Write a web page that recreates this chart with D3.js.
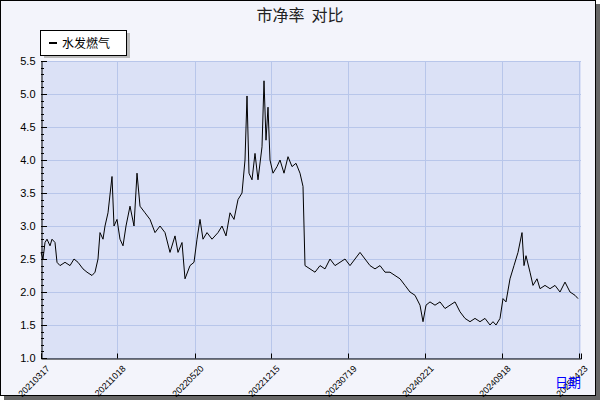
<!DOCTYPE html>
<html><head><meta charset="utf-8">
<script src="https://cdn.jsdelivr.net/npm/d3@7"></script>
<style>body{margin:0;background:#fff}</style></head>
<body>
<script>
const tickIdx = [0, 76, 154, 230, 307, 384, 461, 538];
const tickLabels = ["20210317","20211018","20220520","20221215","20230719","20240221","20240918","20250423"];
const tIdx = [0,2,4,6,9,11,14,16,19,24,29,33,37,42,46,51,54,57,59,62,64,67,71,73,76,79,82,85,89,93,96,99,104,109,114,119,124,129,134,137,141,144,149,153,156,159,162,166,171,177,181,185,189,193,197,201,204,206,208,211,214,217,221,223,225,227,229,232,236,239,243,247,251,255,259,262,264,269,274,279,284,289,294,299,304,309,314,319,324,329,334,339,344,349,354,359,364,369,374,379,382,385,389,394,399,404,409,414,419,424,429,434,439,444,449,452,455,459,462,465,469,473,477,481,483,485,489,492,496,499,504,509,514,519,524,529,534,537,540];
const pb = [2.6,2.5,2.75,2.8,2.7,2.8,2.75,2.45,2.4,2.45,2.4,2.5,2.45,2.35,2.3,2.25,2.3,2.5,2.9,2.8,3.0,3.2,3.75,3.0,3.1,2.8,2.7,3.0,3.3,3.0,3.8,3.3,3.2,3.1,2.9,3.0,2.9,2.6,2.85,2.6,2.75,2.2,2.4,2.45,2.8,3.1,2.8,2.9,2.8,2.9,3.0,2.85,3.2,3.1,3.4,3.5,4.0,4.97,3.8,3.7,4.1,3.7,4.2,5.2,4.3,4.8,4.0,3.8,3.9,4.0,3.8,4.05,3.9,3.95,3.8,3.6,2.4,2.35,2.3,2.4,2.35,2.5,2.4,2.45,2.5,2.4,2.5,2.6,2.5,2.4,2.35,2.4,2.3,2.3,2.25,2.2,2.1,2.0,1.95,1.8,1.55,1.8,1.85,1.8,1.85,1.75,1.8,1.85,1.7,1.6,1.55,1.6,1.55,1.6,1.5,1.55,1.5,1.6,1.9,1.85,2.2,2.4,2.6,2.9,2.4,2.55,2.3,2.1,2.2,2.05,2.1,2.05,2.1,2.0,2.15,2.0,1.95,1.9];
const yTicks = [1.0,1.5,2.0,2.5,3.0,3.5,4.0,4.5,5.0,5.5];

const W = 600, H = 400;
const m = {l: 41, r: 581, t: 61, b: 358};
const svg = d3.select("body").append("svg").attr("width", W).attr("height", H)
  .style("font-family", "DejaVu Sans, sans-serif");

// frame with shadow
svg.append("rect").attr("x", 4).attr("y", 4).attr("width", W - 4).attr("height", H - 4).attr("fill", "#666");
svg.append("rect").attr("x", 0.5).attr("y", 0.5).attr("width", W - 5).attr("height", H - 5)
  .attr("fill", "#f3f4fb").attr("stroke", "#000");

const x = d3.scaleLinear().domain([0, 540]).range([m.l, m.r]);
const y = d3.scaleLinear().domain([1, 5.5]).range([m.b, m.t]);

svg.append("rect").attr("x", m.l).attr("y", m.t).attr("width", m.r - m.l).attr("height", m.b - m.t)
  .attr("fill", "#dbe1f6");

const grid = svg.append("g").attr("stroke", "#b8c6ea").attr("stroke-width", 1);
grid.selectAll(".h").data(yTicks).enter().append("line")
  .attr("x1", m.l).attr("x2", m.r).attr("y1", d => Math.round(y(d)) + 0.5).attr("y2", d => Math.round(y(d)) + 0.5);
grid.selectAll(".v").data(tickIdx.slice(1)).enter().append("line")
  .attr("y1", m.t).attr("y2", m.b).attr("x1", d => Math.round(x(d)) + 0.5).attr("x2", d => Math.round(x(d)) + 0.5);

// y axis
const yAxis = svg.append("g").attr("transform", `translate(${m.l + 0.5},0)`)
  .call(d3.axisLeft(y).tickValues(yTicks).tickFormat(d3.format(".1f")).tickSize(0).tickPadding(6));
yAxis.select(".domain").attr("stroke", "#000");
yAxis.selectAll("text").attr("font-size", 11).attr("fill", "#000");
svg.append("g").selectAll("line").data(d3.range(1, 5.51, 0.1)).enter().append("line")
  .attr("x1", m.l).attr("x2", d => m.l + (Math.abs(d * 2 - Math.round(d * 2)) < 0.01 ? 6 : 3))
  .attr("y1", d => Math.round(y(d)) + 0.5).attr("y2", d => Math.round(y(d)) + 0.5).attr("stroke", "#000");

// x axis
const xAxis = svg.append("g").attr("transform", `translate(0,${m.b + 0.5})`)
  .call(d3.axisBottom(x).tickValues(tickIdx).tickFormat((d, i) => tickLabels[i]).tickSize(-5).tickPadding(4));
xAxis.select(".domain").attr("stroke", "#000");
xAxis.selectAll("text").attr("font-size", 9).attr("fill", "#000")
  .attr("text-anchor", "end").attr("dy", "0.3em").attr("dx", "0")
  .attr("transform", "translate(4,6) rotate(-45)");

// line
svg.append("path").datum(pb.map((v, i) => [tIdx[i], v]))
  .attr("fill", "none").attr("stroke", "#000").attr("stroke-width", 1)
  .attr("d", d3.line().x(d => x(d[0])).y(d => y(d[1])));

// title
svg.append("text").attr("x", 300).attr("y", 21).attr("text-anchor", "middle")
  .attr("font-size", 16).attr("fill", "#222").attr("font-family", "Noto Sans CJK SC")
  .style("white-space", "pre").attr("xml:space", "preserve")
  .text("市净率  对比");

// legend
svg.append("rect").attr("x", 44).attr("y", 33).attr("width", 86).attr("height", 25).attr("fill", "#bbb");
svg.append("rect").attr("x", 40.5).attr("y", 30.5).attr("width", 86).attr("height", 25).attr("fill", "#fff").attr("stroke", "#000");
svg.append("line").attr("x1", 49).attr("x2", 57).attr("y1", 43).attr("y2", 43).attr("stroke", "#000").attr("stroke-width", 2);
svg.append("text").attr("x", 62).attr("y", 48).attr("font-size", 12).attr("font-family", "Noto Sans CJK SC").text("水发燃气");

svg.append("text").attr("x", 581).attr("y", 387).attr("text-anchor", "end").attr("font-size", 13)
  .attr("fill", "#00f").attr("font-family", "Noto Sans CJK SC").text("日期");
</script>
</body></html>
